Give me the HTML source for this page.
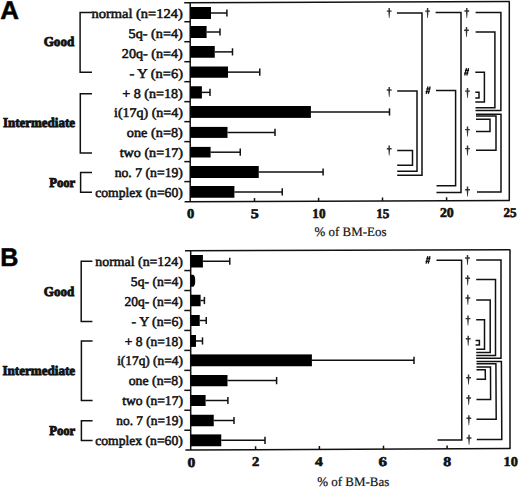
<!DOCTYPE html>
<html><head><meta charset="utf-8"><style>
html,body{margin:0;padding:0;background:#fff;}
body{width:520px;height:489px;overflow:hidden;}
svg{display:block;}
line,polyline{stroke:#111;stroke-linecap:butt;}
rect{fill:#000;}
text{text-rendering:geometricPrecision;fill:#111;stroke:#111;stroke-width:0.55px;font-family:"Liberation Serif",serif;}
.grp{font-weight:bold;stroke-width:0.9px;} .num{font-weight:bold;stroke-width:0.6px;}
.tt{stroke-width:0.2px;}
.dg{fill:#333;stroke:none;}
.hs{fill:none;stroke:#111;stroke-width:1.3px;}
.pl{font-family:"Liberation Sans",sans-serif;font-weight:bold;fill:#000;}
</style></head><body>
<svg width="520" height="489" viewBox="0 0 520 489">
<line x1="184.20" y1="2.70" x2="509.90" y2="1.60" stroke-width="1.5"/>
<line x1="509.30" y1="1.60" x2="509.30" y2="200.40" stroke-width="1.5"/>
<line x1="184.60" y1="201.70" x2="509.90" y2="200.40" stroke-width="1.5"/>
<line x1="190.20" y1="2.40" x2="190.20" y2="201.70" stroke-width="1.5"/>
<line x1="184.30" y1="21.72" x2="190.20" y2="21.72" stroke-width="1.5"/>
<line x1="184.30" y1="41.71" x2="190.20" y2="41.71" stroke-width="1.5"/>
<line x1="184.30" y1="61.70" x2="190.20" y2="61.70" stroke-width="1.5"/>
<line x1="184.30" y1="81.68" x2="190.20" y2="81.68" stroke-width="1.5"/>
<line x1="184.30" y1="101.66" x2="190.20" y2="101.66" stroke-width="1.5"/>
<line x1="184.30" y1="121.65" x2="190.20" y2="121.65" stroke-width="1.5"/>
<line x1="184.30" y1="141.63" x2="190.20" y2="141.63" stroke-width="1.5"/>
<line x1="184.30" y1="161.62" x2="190.20" y2="161.62" stroke-width="1.5"/>
<line x1="184.30" y1="181.61" x2="190.20" y2="181.61" stroke-width="1.5"/>
<line x1="254.50" y1="198.02" x2="254.50" y2="201.42" stroke-width="1.5"/>
<line x1="318.60" y1="197.76" x2="318.60" y2="201.16" stroke-width="1.5"/>
<line x1="382.50" y1="197.51" x2="382.50" y2="200.91" stroke-width="1.5"/>
<line x1="446.60" y1="197.25" x2="446.60" y2="200.65" stroke-width="1.5"/>
<rect x="190.20" y="7.00" width="20.80" height="12.00"/>
<line x1="211.00" y1="13.00" x2="226.90" y2="13.00" stroke-width="1.5"/>
<line x1="226.90" y1="9.40" x2="226.90" y2="16.60" stroke-width="1.5"/>
<rect x="190.20" y="26.00" width="16.40" height="12.00"/>
<line x1="206.60" y1="32.00" x2="220.00" y2="32.00" stroke-width="1.5"/>
<line x1="220.00" y1="28.40" x2="220.00" y2="35.60" stroke-width="1.5"/>
<rect x="190.20" y="46.00" width="24.55" height="11.75"/>
<line x1="214.75" y1="51.88" x2="232.50" y2="51.88" stroke-width="1.5"/>
<line x1="232.50" y1="48.27" x2="232.50" y2="55.48" stroke-width="1.5"/>
<rect x="190.20" y="66.50" width="37.80" height="11.25"/>
<line x1="228.00" y1="72.12" x2="259.75" y2="72.12" stroke-width="1.5"/>
<line x1="259.75" y1="68.53" x2="259.75" y2="75.72" stroke-width="1.5"/>
<rect x="190.20" y="86.25" width="11.70" height="12.25"/>
<line x1="201.90" y1="92.38" x2="210.00" y2="92.38" stroke-width="1.5"/>
<line x1="210.00" y1="88.78" x2="210.00" y2="95.97" stroke-width="1.5"/>
<rect x="190.20" y="106.00" width="120.70" height="11.90"/>
<line x1="310.90" y1="111.95" x2="389.50" y2="111.95" stroke-width="1.5"/>
<line x1="389.50" y1="108.35" x2="389.50" y2="115.55" stroke-width="1.5"/>
<rect x="190.20" y="126.90" width="37.30" height="11.00"/>
<line x1="227.50" y1="132.40" x2="275.00" y2="132.40" stroke-width="1.5"/>
<line x1="275.00" y1="128.80" x2="275.00" y2="136.00" stroke-width="1.5"/>
<rect x="190.20" y="146.90" width="20.40" height="10.60"/>
<line x1="210.60" y1="152.20" x2="240.25" y2="152.20" stroke-width="1.5"/>
<line x1="240.25" y1="148.60" x2="240.25" y2="155.80" stroke-width="1.5"/>
<rect x="190.20" y="166.00" width="68.55" height="12.00"/>
<line x1="258.75" y1="172.00" x2="323.10" y2="172.00" stroke-width="1.5"/>
<line x1="323.10" y1="168.40" x2="323.10" y2="175.60" stroke-width="1.5"/>
<rect x="190.20" y="186.00" width="44.20" height="11.75"/>
<line x1="234.40" y1="191.88" x2="282.25" y2="191.88" stroke-width="1.5"/>
<line x1="282.25" y1="188.28" x2="282.25" y2="195.47" stroke-width="1.5"/>
<line x1="185.00" y1="250.80" x2="510.30" y2="249.70" stroke-width="1.5"/>
<line x1="510.00" y1="249.70" x2="510.00" y2="448.50" stroke-width="1.5"/>
<line x1="185.40" y1="450.00" x2="510.60" y2="448.50" stroke-width="1.5"/>
<line x1="190.70" y1="250.50" x2="190.70" y2="450.00" stroke-width="1.5"/>
<line x1="184.30" y1="270.56" x2="190.70" y2="270.56" stroke-width="1.5"/>
<line x1="184.30" y1="290.52" x2="190.70" y2="290.52" stroke-width="1.5"/>
<line x1="184.30" y1="310.48" x2="190.70" y2="310.48" stroke-width="1.5"/>
<line x1="184.30" y1="330.44" x2="190.70" y2="330.44" stroke-width="1.5"/>
<line x1="184.30" y1="350.40" x2="190.70" y2="350.40" stroke-width="1.5"/>
<line x1="184.30" y1="370.36" x2="190.70" y2="370.36" stroke-width="1.5"/>
<line x1="184.30" y1="390.32" x2="190.70" y2="390.32" stroke-width="1.5"/>
<line x1="184.30" y1="410.28" x2="190.70" y2="410.28" stroke-width="1.5"/>
<line x1="184.30" y1="430.24" x2="190.70" y2="430.24" stroke-width="1.5"/>
<line x1="255.60" y1="446.28" x2="255.60" y2="449.68" stroke-width="1.5"/>
<line x1="319.40" y1="445.98" x2="319.40" y2="449.38" stroke-width="1.5"/>
<line x1="383.50" y1="445.69" x2="383.50" y2="449.09" stroke-width="1.5"/>
<line x1="447.10" y1="445.39" x2="447.10" y2="448.79" stroke-width="1.5"/>
<rect x="190.70" y="255.00" width="12.20" height="12.50"/>
<line x1="202.90" y1="261.25" x2="229.75" y2="261.25" stroke-width="1.5"/>
<line x1="229.75" y1="257.65" x2="229.75" y2="264.85" stroke-width="1.5"/>
<path d="M190.7,274.7 L193.2,274.7 Q195.3,275.6 195.2,280.625 Q195.3,285.85 193.2,286.65 L190.7,286.65 Z" fill="#000"/>
<rect x="190.70" y="294.75" width="9.90" height="11.50"/>
<line x1="200.60" y1="300.50" x2="204.40" y2="300.50" stroke-width="1.5"/>
<line x1="204.40" y1="296.90" x2="204.40" y2="304.10" stroke-width="1.5"/>
<rect x="190.70" y="315.00" width="9.05" height="11.00"/>
<line x1="199.75" y1="320.50" x2="206.25" y2="320.50" stroke-width="1.5"/>
<line x1="206.25" y1="316.90" x2="206.25" y2="324.10" stroke-width="1.5"/>
<rect x="190.70" y="335.00" width="5.30" height="11.90"/>
<line x1="196.00" y1="340.95" x2="202.50" y2="340.95" stroke-width="1.5"/>
<line x1="202.50" y1="337.35" x2="202.50" y2="344.55" stroke-width="1.5"/>
<rect x="190.70" y="354.40" width="121.20" height="11.85"/>
<line x1="311.90" y1="360.32" x2="414.00" y2="360.32" stroke-width="1.5"/>
<line x1="414.00" y1="356.72" x2="414.00" y2="363.93" stroke-width="1.5"/>
<rect x="190.70" y="375.00" width="36.80" height="11.25"/>
<line x1="227.50" y1="380.62" x2="276.60" y2="380.62" stroke-width="1.5"/>
<line x1="276.60" y1="377.02" x2="276.60" y2="384.23" stroke-width="1.5"/>
<rect x="190.70" y="395.00" width="14.90" height="11.00"/>
<line x1="205.60" y1="400.50" x2="227.90" y2="400.50" stroke-width="1.5"/>
<line x1="227.90" y1="396.90" x2="227.90" y2="404.10" stroke-width="1.5"/>
<rect x="190.70" y="414.75" width="23.05" height="11.50"/>
<line x1="213.75" y1="420.50" x2="234.00" y2="420.50" stroke-width="1.5"/>
<line x1="234.00" y1="416.90" x2="234.00" y2="424.10" stroke-width="1.5"/>
<rect x="190.70" y="434.40" width="30.55" height="11.85"/>
<line x1="221.25" y1="440.32" x2="265.00" y2="440.32" stroke-width="1.5"/>
<line x1="265.00" y1="436.72" x2="265.00" y2="443.93" stroke-width="1.5"/>
<polyline points="92,12.5 80.1,12.5 80.1,72.2 92,72.2" stroke-width="1.5" fill="none"/>
<polyline points="92,93.8 80.3,93.8 80.3,153.0 92,153.0" stroke-width="1.5" fill="none"/>
<polyline points="92,172.6 80.6,172.6 80.6,192.3 92,192.3" stroke-width="1.5" fill="none"/>
<polyline points="92.4,261.3 81.2,261.3 81.2,321.5 92.4,321.5" stroke-width="1.5" fill="none"/>
<polyline points="92.6,341.0 81.4,341.0 81.4,400.6 92.6,400.6" stroke-width="1.5" fill="none"/>
<polyline points="92.6,420.7 81.4,420.7 81.4,440.6 92.6,440.6" stroke-width="1.5" fill="none"/>
<polyline points="396.9,13 422,13 422,175.3 397.2,175.3" stroke-width="1.5" fill="none"/>
<polyline points="397.2,91 417,91 417,171.3 397.2,171.3" stroke-width="1.5" fill="none"/>
<polyline points="397.2,150.6 412.5,150.6 412.5,165.3 397.2,165.3" stroke-width="1.5" fill="none"/>
<polyline points="435.6,12.6 461,12.6 461,192.5 436.5,192.5" stroke-width="1.5" fill="none"/>
<polyline points="436,90.5 455.6,90.5 455.6,185.8 436.5,185.8" stroke-width="1.5" fill="none"/>
<polyline points="475.6,12.6 500.9,12.6 500.9,110.5 475.5,110.5" stroke-width="1.5" fill="none"/>
<polyline points="475.6,31.9 494.9,31.9 494.9,107.8 475.5,107.8" stroke-width="1.5" fill="none"/>
<polyline points="475.3,72.3 484.4,72.3 484.4,102.1 475.3,102.1" stroke-width="1.5" fill="none"/>
<polyline points="475.3,92.3 479,92.3 479,98 475.3,98" stroke-width="1.5" fill="none"/>
<polyline points="476,114.2 501,114.2 501,192 477,192" stroke-width="1.5" fill="none"/>
<polyline points="476,116 496,116 496,150.3 476,150.3" stroke-width="1.5" fill="none"/>
<polyline points="476,119.3 490,119.3 490,131.5 476,131.5" stroke-width="1.5" fill="none"/>
<polyline points="436.5,260.2 461.6,260.2 461.8,440 437.5,440" stroke-width="1.5" fill="none"/>
<polyline points="476.2,260.1 501,260.1 501,358.2 476.2,358.2" stroke-width="1.5" fill="none"/>
<polyline points="476.2,279.4 495.5,279.4 495.5,355.4 476.2,355.4" stroke-width="1.5" fill="none"/>
<polyline points="476.2,299.9 490.2,299.9 490.2,352.5 476.2,352.5" stroke-width="1.5" fill="none"/>
<polyline points="476.2,319.7 484.5,319.7 484.5,349.2 476.2,349.2" stroke-width="1.5" fill="none"/>
<polyline points="475.6,340.5 479.4,340.5 479.4,345 475.6,345" stroke-width="1.5" fill="none"/>
<polyline points="476.5,361.5 501.4,361.5 501.8,439.5 476.8,439.5" stroke-width="1.5" fill="none"/>
<polyline points="476.5,363.7 495.9,363.7 496.2,419.3 476.5,419.3" stroke-width="1.5" fill="none"/>
<polyline points="476.5,366.9 490.5,366.9 490.6,399.5 476.5,399.5" stroke-width="1.5" fill="none"/>
<polyline points="476.5,369.8 485.2,369.8 485.4,379.2 476.5,379.2" stroke-width="1.5" fill="none"/>
<path class="dg" d="M388.50,8.00 L389.90,8.00 L390.00,12.60 L389.50,18.00 L388.90,18.00 L388.40,12.60 Z M386.80,10.40 h4.8 v1.45 h-4.8 Z"/>
<path class="dg" d="M388.50,86.90 L389.90,86.90 L390.00,91.50 L389.50,96.90 L388.90,96.90 L388.40,91.50 Z M386.80,89.30 h4.8 v1.45 h-4.8 Z"/>
<path class="dg" d="M388.50,145.60 L389.90,145.60 L390.00,150.20 L389.50,155.60 L388.90,155.60 L388.40,150.20 Z M386.80,148.00 h4.8 v1.45 h-4.8 Z"/>
<path class="dg" d="M426.90,8.00 L428.30,8.00 L428.40,12.60 L427.90,18.00 L427.30,18.00 L426.80,12.60 Z M425.20,10.40 h4.8 v1.45 h-4.8 Z"/>
<path class="dg" d="M466.10,7.90 L467.50,7.90 L467.60,12.50 L467.10,17.90 L466.50,17.90 L466.00,12.50 Z M464.40,10.30 h4.8 v1.45 h-4.8 Z"/>
<path class="dg" d="M465.80,27.10 L467.20,27.10 L467.30,31.70 L466.80,37.10 L466.20,37.10 L465.70,31.70 Z M464.10,29.50 h4.8 v1.45 h-4.8 Z"/>
<path class="dg" d="M466.80,88.00 L468.20,88.00 L468.30,92.60 L467.80,98.00 L467.20,98.00 L466.70,92.60 Z M465.10,90.40 h4.8 v1.45 h-4.8 Z"/>
<path class="dg" d="M466.80,126.50 L468.20,126.50 L468.30,131.10 L467.80,136.50 L467.20,136.50 L466.70,131.10 Z M465.10,128.90 h4.8 v1.45 h-4.8 Z"/>
<path class="dg" d="M466.80,145.50 L468.20,145.50 L468.30,150.10 L467.80,155.50 L467.20,155.50 L466.70,150.10 Z M465.10,147.90 h4.8 v1.45 h-4.8 Z"/>
<path class="dg" d="M466.80,186.60 L468.20,186.60 L468.30,191.20 L467.80,196.60 L467.20,196.60 L466.70,191.20 Z M465.10,189.00 h4.8 v1.45 h-4.8 Z"/>
<path class="hs" d="M466.50,68.10 L464.70,75.50 M468.60,68.10 L466.80,75.50 M464.90,70.40 H469.00 M464.10,73.20 H468.30"/>
<path class="hs" d="M428.00,86.50 L426.20,93.90 M430.10,86.50 L428.30,93.90 M426.40,88.80 H430.50 M425.60,91.60 H429.80"/>
<path class="hs" d="M427.90,256.20 L426.10,263.60 M430.00,256.20 L428.20,263.60 M426.30,258.50 H430.40 M425.50,261.30 H429.70"/>
<path class="dg" d="M466.80,254.90 L468.20,254.90 L468.30,259.50 L467.80,264.90 L467.20,264.90 L466.70,259.50 Z M465.10,257.30 h4.8 v1.45 h-4.8 Z"/>
<path class="dg" d="M466.97,275.20 L468.37,275.20 L468.47,279.80 L467.97,285.20 L467.37,285.20 L466.87,279.80 Z M465.27,277.60 h4.8 v1.45 h-4.8 Z"/>
<path class="dg" d="M467.14,294.80 L468.54,294.80 L468.64,299.40 L468.14,304.80 L467.54,304.80 L467.04,299.40 Z M465.44,297.20 h4.8 v1.45 h-4.8 Z"/>
<path class="dg" d="M467.31,315.50 L468.71,315.50 L468.81,320.10 L468.31,325.50 L467.71,325.50 L467.21,320.10 Z M465.61,317.90 h4.8 v1.45 h-4.8 Z"/>
<path class="dg" d="M467.49,335.70 L468.89,335.70 L468.99,340.30 L468.49,345.70 L467.89,345.70 L467.39,340.30 Z M465.79,338.10 h4.8 v1.45 h-4.8 Z"/>
<path class="dg" d="M467.82,374.60 L469.22,374.60 L469.32,379.20 L468.82,384.60 L468.22,384.60 L467.72,379.20 Z M466.12,377.00 h4.8 v1.45 h-4.8 Z"/>
<path class="dg" d="M467.99,394.90 L469.39,394.90 L469.49,399.50 L468.99,404.90 L468.39,404.90 L467.89,399.50 Z M466.29,397.30 h4.8 v1.45 h-4.8 Z"/>
<path class="dg" d="M468.16,415.20 L469.56,415.20 L469.66,419.80 L469.16,425.20 L468.56,425.20 L468.06,419.80 Z M466.46,417.60 h4.8 v1.45 h-4.8 Z"/>
<path class="dg" d="M468.33,434.80 L469.73,434.80 L469.83,439.40 L469.33,444.80 L468.73,444.80 L468.23,439.40 Z M466.63,437.20 h4.8 v1.45 h-4.8 Z"/>
<text class="lb" style="font-size:13.4px" transform="translate(91.48,17.90) scale(1.0800,1)">normal (n=124)</text>
<text class="lb" style="font-size:13.4px" transform="translate(95.34,266.10) scale(1.0340,1)">normal (n=124)</text>
<text class="lb" style="font-size:13.4px" transform="translate(128.60,37.80) scale(1.0613,1)">5q- (n=4)</text>
<text class="lb" style="font-size:13.4px" transform="translate(130.84,285.96) scale(1.0171,1)">5q- (n=4)</text>
<text class="lb" style="font-size:13.4px" transform="translate(121.87,57.70) scale(1.0537,1)">20q- (n=4)</text>
<text class="lb" style="font-size:13.4px" transform="translate(124.40,305.82) scale(1.0097,1)">20q- (n=4)</text>
<text class="lb" style="font-size:13.4px" transform="translate(129.46,77.60) scale(1.0763,1)">- Y (n=6)</text>
<text class="lb" style="font-size:13.4px" transform="translate(131.58,325.68) scale(1.0330,1)">- Y (n=6)</text>
<text class="lb" style="font-size:13.4px" transform="translate(122.31,97.50) scale(1.0507,1)">+ 8 (n=18)</text>
<text class="lb" style="font-size:13.4px" transform="translate(124.85,345.54) scale(1.0062,1)">+ 8 (n=18)</text>
<text class="lb" style="font-size:13.4px" transform="translate(113.99,117.40) scale(1.0454,1)">i(17q) (n=4)</text>
<text class="lb" style="font-size:13.4px" transform="translate(117.15,365.40) scale(0.9969,1)">i(17q) (n=4)</text>
<text class="lb" style="font-size:13.4px" transform="translate(126.87,137.30) scale(1.0641,1)">one (n=8)</text>
<text class="lb" style="font-size:13.4px" transform="translate(128.74,385.26) scale(1.0282,1)">one (n=8)</text>
<text class="lb" style="font-size:13.4px" transform="translate(119.64,157.20) scale(1.0559,1)">two (n=17)</text>
<text class="lb" style="font-size:13.4px" transform="translate(122.15,405.12) scale(1.0136,1)">two (n=17)</text>
<text class="lb" style="font-size:13.4px" transform="translate(114.64,177.10) scale(1.0236,1)">no. 7 (n=19)</text>
<text class="lb" style="font-size:13.4px" transform="translate(116.25,424.98) scale(0.9992,1)">no. 7 (n=19)</text>
<text class="lb" style="font-size:13.4px" transform="translate(95.24,197.00) scale(1.0171,1)">complex (n=60)</text>
<text class="lb" style="font-size:13.4px" transform="translate(95.24,444.84) scale(1.0171,1)">complex (n=60)</text>
<text class="grp" style="font-size:13.4px" transform="translate(43.67,46.30) scale(0.9785,1)">Good</text>
<text class="grp" style="font-size:13.4px" transform="translate(3.02,127.10) scale(0.9673,1)">Intermediate</text>
<text class="grp" style="font-size:13.4px" transform="translate(49.16,186.95) scale(0.9481,1)">Poor</text>
<text class="grp" style="font-size:13.4px" transform="translate(43.87,296.00) scale(0.9719,1)">Good</text>
<text class="grp" style="font-size:13.4px" transform="translate(2.41,374.70) scale(0.9776,1)">Intermediate</text>
<text class="grp" style="font-size:13.4px" transform="translate(49.16,434.80) scale(0.9481,1)">Poor</text>
<text class="num" style="font-size:13.4px" transform="translate(186.96,218.40) scale(1.0870,1)">0</text>
<text class="num" style="font-size:13.4px" transform="translate(250.65,218.14) scale(1.1913,1)">5</text>
<text class="num" style="font-size:13.4px" transform="translate(312.31,217.88) scale(0.9872,1)">10</text>
<text class="num" style="font-size:13.4px" transform="translate(376.27,217.63) scale(0.9792,1)">15</text>
<text class="num" style="font-size:13.4px" transform="translate(439.88,217.37) scale(1.0367,1)">20</text>
<text class="num" style="font-size:13.4px" transform="translate(503.51,217.12) scale(0.9760,1)">25</text>
<text class="num" style="font-size:13.4px" transform="translate(187.52,466.50) scale(1.1652,1)">0</text>
<text class="num" style="font-size:13.4px" transform="translate(251.95,466.30) scale(1.0909,1)">2</text>
<text class="num" style="font-size:13.4px" transform="translate(315.11,466.11) scale(1.1680,1)">4</text>
<text class="num" style="font-size:13.4px" transform="translate(378.57,465.92) scale(1.2696,1)">6</text>
<text class="num" style="font-size:13.4px" transform="translate(443.21,465.73) scale(1.1826,1)">8</text>
<text class="num" style="font-size:13.4px" transform="translate(503.54,465.54) scale(1.0638,1)">10</text>
<text class="tt" style="font-size:13px" transform="translate(314.50,235.70) scale(0.9965,1)">% of BM-Eos</text>
<text class="tt" style="font-size:13px" transform="translate(317.20,486.00) scale(0.9979,1)">% of BM-Bas</text>
<text class="pl" style="font-size:25.6px" transform="translate(0.14,18.80) scale(1.0118,1)">A</text>
<text class="pl" style="font-size:25.6px" transform="translate(0.18,266.20) scale(0.9806,1)">B</text>
</svg>
</body></html>
